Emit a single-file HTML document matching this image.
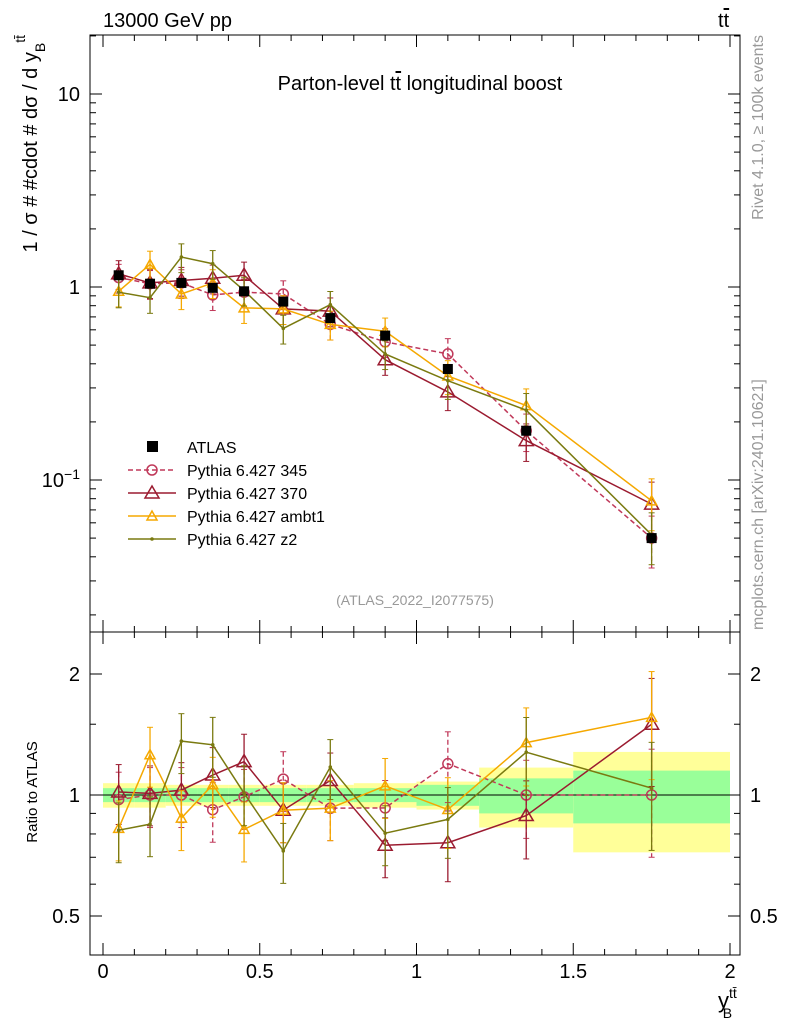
<!DOCTYPE html>
<html><head><meta charset="utf-8"><style>
body{margin:0;background:#fff;}
svg text{font-family:"Liberation Sans",sans-serif;}
</style></head><body>
<svg id="c" width="786" height="1024" xmlns="http://www.w3.org/2000/svg"></svg>
<script>
const binEdges=[0,0.1,0.2,0.3,0.4,0.5,0.65,0.8,1.0,1.2,1.5,2.0];
const atlas=[1.15,1.04,1.05,0.99,0.95,0.84,0.69,0.56,0.376,0.18,0.050];
const bandYellow=[0.07,0.07,0.06,0.06,0.06,0.06,0.06,0.07,0.08,0.17,0.28];
const bandGreen=[0.04,0.04,0.04,0.04,0.04,0.04,0.04,0.04,0.06,0.10,0.15];
const mc345=[1.12,1.04,1.05,0.91,0.94,0.92,0.64,0.52,0.45,0.18,0.050];
const mc370=[1.17,1.05,1.08,1.11,1.15,0.77,0.75,0.42,0.286,0.16,0.075];
const mcAmbt1=[0.95,1.31,0.92,1.05,0.78,0.77,0.64,0.59,0.346,0.243,0.078];
const mcZ2=[0.94,0.88,1.43,1.32,0.96,0.61,0.81,0.45,0.327,0.23,0.052];
const mcErr=[0.17,0.17,0.17,0.17,0.17,0.17,0.17,0.17,0.2,0.22,0.3];
const xTicks=[0,0.5,1,1.5,2];
const xTickLabels=["0","0.5","1","1.5","2"];

const svg=document.getElementById('c');const NS="http://www.w3.org/2000/svg";
function el(t,a,p){const e=document.createElementNS(NS,t);for(const k in a)e.setAttribute(k,a[k]);(p||svg).appendChild(e);return e;}
const X=v=>103+v*313.5;
const YM=v=>287-193*Math.log10(v);
const YR=v=>795-121*Math.log2(v);
const L=90,R=740,T=35,MB=632,RB=955;
for(let i=0;i<atlas.length;i++){
 const x0=X(binEdges[i]),x1=X(binEdges[i+1]);
 let r=el('rect',{x:x0,y:YR(1+bandYellow[i]),width:x1-x0,height:YR(1-bandYellow[i])-YR(1+bandYellow[i]),fill:'#ffff99'});
 
 r=el('rect',{x:x0,y:YR(1+bandGreen[i]),width:x1-x0,height:YR(1-bandGreen[i])-YR(1+bandGreen[i]),fill:'#99ff99'});
 
}
el('line',{x1:L,x2:R,y1:795,y2:795,stroke:'#000','stroke-width':1});
el('rect',{x:L,y:T,width:R-L,height:MB-T,fill:'none',stroke:'#000'});
el('rect',{x:L,y:MB,width:R-L,height:RB-MB,fill:'none',stroke:'#000'});
xTicks.forEach((v,i)=>{[[MB,T],[RB,MB]].forEach(([b,t])=>{el('line',{x1:X(v),x2:X(v),y1:b,y2:b-12,stroke:'#000'});el('line',{x1:X(v),x2:X(v),y1:t,y2:t+12,stroke:'#000'});});
 for(let k=1;k<5;k++){const m=v+k*0.1;if(m<=2.05){[[MB,T],[RB,MB]].forEach(([b,t])=>{el('line',{x1:X(m),x2:X(m),y1:b,y2:b-6,stroke:'#000'});el('line',{x1:X(m),x2:X(m),y1:t,y2:t+6,stroke:'#000'});});}}
 const t=el('text',{x:X(v),y:978,'font-size':20,'text-anchor':'middle'});t.textContent=xTickLabels[i];});
[[10,'10'],[1,'1']].forEach(([v,s])=>{const t=el('text',{x:80,y:YM(v)+7,'font-size':20,'text-anchor':'end'});t.textContent=s;});
const t01=el('text',{x:80,y:YM(0.1)+7,'font-size':20,'text-anchor':'end'});t01.innerHTML='10<tspan dy="-8" font-size="14">−1</tspan>';
for(let d=-2;d<=1;d++)for(let m=1;m<10;m++){const v=m*Math.pow(10,d);const y=YM(v);if(y<T||y>MB)continue;const len=m==1?12:6;el('line',{x1:L,x2:L+len,y1:y,y2:y,stroke:'#000'});el('line',{x1:R,x2:R-len,y1:y,y2:y,stroke:'#000'});}
[[2,'2'],[1,'1'],[0.5,'0.5']].forEach(([v,s])=>{el('line',{x1:L,x2:L+12,y1:YR(v),y2:YR(v),stroke:'#000'});el('line',{x1:R,x2:R-12,y1:YR(v),y2:YR(v),stroke:'#000'});
 let t=el('text',{x:80,y:YR(v)+7,'font-size':20,'text-anchor':'end'});t.textContent=s;t=el('text',{x:750,y:YR(v)+7,'font-size':20});t.textContent=s;});
[0.6,0.7,0.8,0.9,1.5].forEach(v=>{el('line',{x1:L,x2:L+6,y1:YR(v),y2:YR(v),stroke:'#000'});el('line',{x1:R,x2:R-6,y1:YR(v),y2:YR(v),stroke:'#000'});});
const centers=atlas.map((_,i)=>(binEdges[i]+binEdges[i+1])/2);
const series=[
 {d:mc345,c:'#c0395a',dash:'5,3',m:'circle',n:'pythia-345'},
 {d:mc370,c:'#9b1b30',dash:'',m:'tri',n:'pythia-370'},
 {d:mcAmbt1,c:'#f5a800',dash:'',m:'trismall',n:'pythia-ambt1'},
 {d:mcZ2,c:'#7a7a10',dash:'',m:'dot',n:'pythia-z2'}];
function marker(m,x,y,c,g){
 if(m=='circle')el('circle',{cx:x,cy:y,r:5,fill:'none',stroke:c,'stroke-width':1.5},g);
 else if(m=='tri')el('polygon',{points:`${x},${y-7} ${x-7},${y+5} ${x+7},${y+5}`,fill:'none',stroke:c,'stroke-width':1.5},g);
 else if(m=='trismall')el('polygon',{points:`${x},${y-5} ${x-5},${y+4} ${x+5},${y+4}`,fill:'none',stroke:c,'stroke-width':1.5},g);
 else el('circle',{cx:x,cy:y,r:1.8,fill:c},g);
}
series.forEach(s=>{
 const g=el('g',{});
 const pm=s.d.map((v,i)=>X(centers[i])+','+YM(v)).join(' ');
 el('polyline',{points:pm,fill:'none',stroke:s.c,'stroke-width':1.5,'stroke-dasharray':s.dash},g);
 const pr=s.d.map((v,i)=>X(centers[i])+','+YR(v/atlas[i])).join(' ');
 el('polyline',{points:pr,fill:'none',stroke:s.c,'stroke-width':1.5,'stroke-dasharray':s.dash},g);
 s.d.forEach((v,i)=>{const x=X(centers[i]);const e=mcErr[i];
  [[YM,v],[YR,v/atlas[i]]].forEach(([F,w])=>{el('line',{x1:x,x2:x,y1:F(w*(1+e)),y2:F(w*(1-e)),stroke:s.c,'stroke-width':1.3,'stroke-dasharray':s.dash},g);
   el('line',{x1:x-3,x2:x+3,y1:F(w*(1+e)),y2:F(w*(1+e)),stroke:s.c},g);el('line',{x1:x-3,x2:x+3,y1:F(w*(1-e)),y2:F(w*(1-e)),stroke:s.c},g);
   marker(s.m,x,F(w),s.c,g);});
 });
});
atlas.forEach((v,i)=>{const r=el('rect',{x:X(centers[i])-5,y:YM(v)-5,width:10,height:10,fill:'#000'});});
const leg=[['ATLAS','#000','','sq'],['Pythia 6.427 345','#c0395a','5,3','circle'],['Pythia 6.427 370','#9b1b30','','tri'],['Pythia 6.427 ambt1','#f5a800','','trismall'],['Pythia 6.427 z2','#7a7a10','','dot']];
leg.forEach((l,i)=>{const y=447+i*23;const g=el('g',{});
 if(l[3]=='sq')el('rect',{x:147,y:y-6,width:11,height:11,fill:'#000'},g);
 else{el('line',{x1:128,x2:176,y1:y,y2:y,stroke:l[1],'stroke-width':1.5,'stroke-dasharray':l[2]},g);marker(l[3],152,y,l[1],g);}
 const t=el('text',{x:187,y:y+6,'font-size':16},g);t.textContent=l[0];});
function txt(s,a,name){const t=el('text',a);t.innerHTML=s;return t;}
txt('13000 GeV pp',{x:103,y:27,'font-size':20},'energy-label');
txt('t<tspan text-decoration="overline">t</tspan>',{x:718,y:27,'font-size':20},'process-label');
txt('Parton-level t<tspan text-decoration="overline">t</tspan> longitudinal boost',{x:420,y:90,'font-size':20,'text-anchor':'middle'},'plot-title');
txt('(ATLAS_2022_I2077575)',{x:415,y:605,'font-size':14,fill:'#999','text-anchor':'middle'},'analysis-id');
txt('1 / σ # #cdot # dσ / d y<tspan dy="8" font-size="14">B</tspan><tspan dy="-20" font-size="14">tt̄</tspan>',{x:0,y:0,'font-size':20,'text-anchor':'end',transform:'translate(37,35) rotate(-90)'},'y-axis-title');
txt('Ratio to ATLAS',{x:0,y:0,'font-size':15,'text-anchor':'middle',transform:'translate(37,792) rotate(-90)'},'ratio-axis-title');
txt('y<tspan dy="-10" font-size="14">tt̄</tspan><tspan dx="-14" dy="20" font-size="14">B</tspan>',{x:718,y:1008,'font-size':22},'x-axis-title');
txt('Rivet 4.1.0, ≥ 100k events',{x:0,y:0,'font-size':16,fill:'#999','text-anchor':'end',transform:'translate(763,35) rotate(-90)'},'rivet-label');
txt('mcplots.cern.ch [arXiv:2401.10621]',{x:0,y:0,'font-size':16,fill:'#999','text-anchor':'start',transform:'translate(763,630) rotate(-90)'},'mcplots-label');
</script>
</body></html>
